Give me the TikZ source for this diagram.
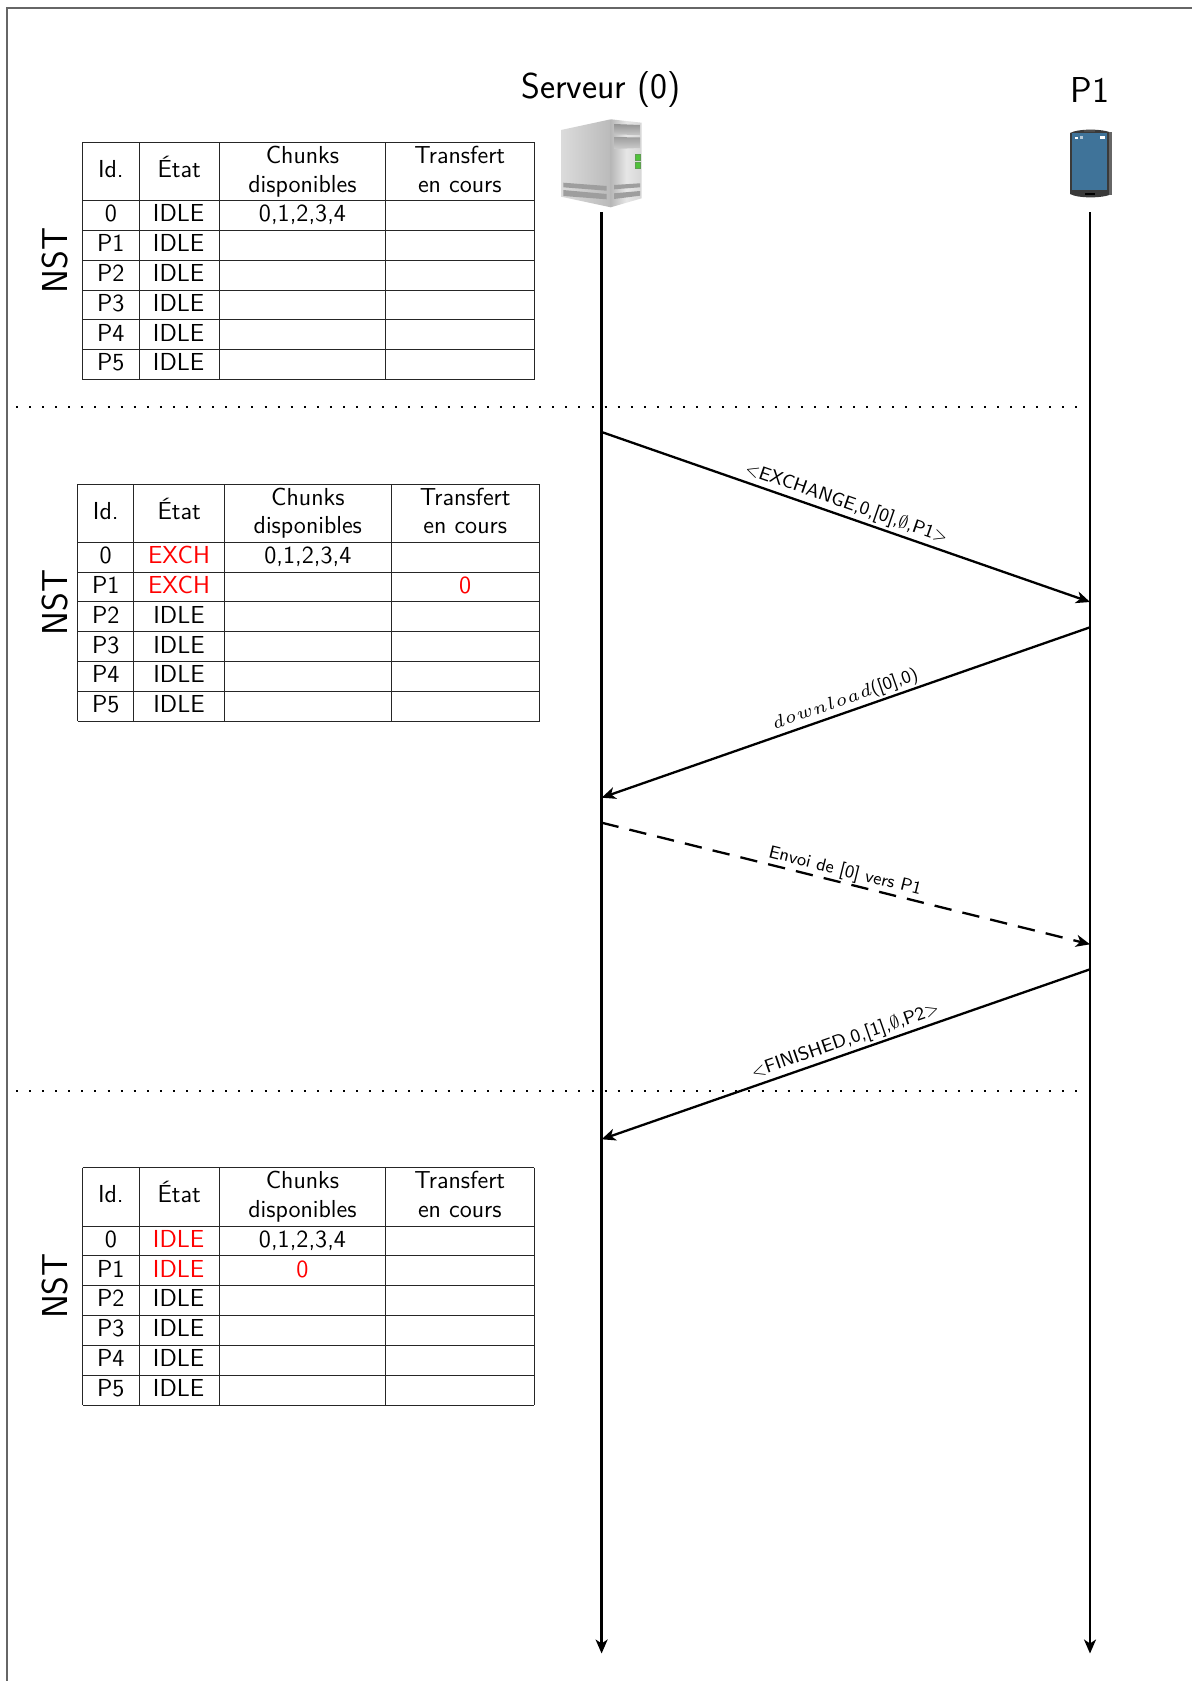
\documentclass[tikz,border=0pt]{standalone}
\usepackage{graphicx}
\usetikzlibrary{arrows.meta}
\renewcommand{\familydefault}{\sfdefault}
\definecolor{framegray}{gray}{0.4}
\definecolor{pscreen}{HTML}{3F7399}
\definecolor{pbody}{HTML}{3A3A3A}
\definecolor{ledgreen}{HTML}{4FC23A}
\definecolor{ledrim}{HTML}{5E9E50}
\newcommand{\tabfont}{\fontsize{12.3}{14.4}\selectfont}
\newcommand{\lblfont}{\fontsize{9}{11}\selectfont}
\newcommand{\lblbigfont}{\fontsize{9.4}{11}\selectfont}
\newcommand{\bigfont}{\fontsize{18}{20}\selectfont}
\tikzset{
  x=0.5pt,y=-0.5pt,
  cell/.style={anchor=base,inner sep=0pt,font=\tabfont,text=black},
  redcell/.style={cell,text=red},
  grid/.style={line width=0.45pt,black!85},
  title/.style={anchor=base,inner sep=0pt,font=\bigfont},
  nst/.style={anchor=center,inner sep=0pt,rotate=90,font=\fontsize{18}{20}\selectfont},
  lifeline/.style={line width=1.15pt,-{Stealth[length=7pt,width=6pt,inset=2pt]}},
  msg/.style={line width=1.15pt,-{Stealth[length=7pt,width=6pt,inset=2pt]}},
  msgdash/.style={msg,dash pattern=on 8.7pt off 5.6pt},
  sep/.style={line width=1pt,dash pattern=on 1pt off 5.54pt},
  lbl/.style={pos=0.4925,sloped,above,inner sep=0pt,yshift=1pt,font=\lblfont},
  lblb/.style={lbl,font=\lblbigfont},
}
% #1 prefix, #2-#6 vertical rules, #7 top y, #8 y of the NST centre
\newcommand{\nsttab}[8]{
  \foreach \vx in {#2,#3,#4,#5,#6} \draw[grid] (\vx,#7) -- (\vx,#7+237.3);
  \foreach \ry in {0,58.3,88.1,117.9,147.7,177.5,207.3,237.3} \draw[grid] (#2,#7+\ry) -- (#6,#7+\ry);
  \node[cell] (#1id) at ({(#2+#3)/2},#7+35) {Id.};
  \node[cell] (#1etat) at ({(#3+#4)/2},#7+35) {État};
  \node[cell] (#1cha) at ({(#4+#5)/2},#7+21) {Chunks};
  \node[cell] (#1chb) at ({(#4+#5)/2},#7+49.8) {disponibles};
  \node[cell] (#1tra) at ({(#5+#6)/2},#7+21) {Transfert};
  \node[cell] (#1trb) at ({(#5+#6)/2},#7+49.8) {en cours};
  \foreach \rw/\rn in {0/0,1/P1,2/P2,3/P3,4/P4,5/P5}
    \node[cell] (#1r\rw) at ({(#2+#3)/2},#7+58.3+21.3+29.8*\rw) {\rn};
  \node[nst] (#1nst) at (55,#8) {NST};
}
\begin{document}
\begin{tikzpicture}
\useasboundingbox (0,0) rectangle (1192,1681);
% page frame
\coordinate (fa) at (7,1690); \coordinate (fb) at (7,8); \coordinate (fc) at (1200,8);
\draw[framegray,line width=1pt] (fa) -- (fb) -- (fc);

% server icon
\begin{scope}
  \shade[left color=black!14,right color=black!27] (561,130) -- (610.7,119.3) -- (610.7,207.3) -- (561,196.7) -- cycle;
  \shade[left color=black!28,right color=black!16,middle color=black!10] (610.7,119.3) -- (641.7,122.7) -- (641.7,198.3) -- (610.7,207.3) -- cycle;
  \shade[top color=black!42,bottom color=black!22] (614,124) -- (640,125) -- (640,135) -- (614,134.5) -- cycle;
  \shade[top color=black!38,bottom color=black!20] (614,137) -- (640,137.5) -- (640,148) -- (614,149) -- cycle;
  \fill[ledgreen,draw=ledrim,line width=0.3pt] (635.5,154) rectangle (640.5,160);
  \fill[ledgreen,draw=ledrim,line width=0.3pt] (635.5,162.5) rectangle (640.5,168.5);
  \fill[black!38] (614,185) -- (640,183.3) -- (640,187.3) -- (614,189.3) -- cycle;
  \fill[black!38] (614,193.3) -- (640,191) -- (640,195.7) -- (614,199) -- cycle;
  \fill[black!38] (563.3,182.7) -- (606.7,186) -- (606.7,190.7) -- (563.3,187.3) -- cycle;
  \fill[black!38] (563.3,190) -- (606.7,194) -- (606.7,199.3) -- (563.3,196) -- cycle;
\end{scope}

% phone icon
\begin{scope}
  \fill[pbody] (1070,133) .. controls (1078,128.5) and (1103,128.5) .. (1111.7,133) -- (1111.7,194) .. controls (1103,198.5) and (1078,198.5) .. (1070,194) -- cycle;
  \fill[black!60] (1108.5,132) rectangle (1111.7,195);
  \fill[pscreen] (1071.7,133.3) rectangle (1107.3,190);
  \fill[white] (1075,136.5) rectangle (1078,138.5);
  \fill[white!60!pscreen] (1080,135.5) rectangle (1083,138.5);
  \fill[white] (1100,136) rectangle (1105,139);
  \fill[black] (1085,193) rectangle (1095,195);
  \fill[black!70] (1084,130.4) rectangle (1095,131.6);
\end{scope}

% titles
\node[title] (srv) at (601,98.7) {Serveur (0)};
\node[title] (pone) at (1089.8,102.7) {P1};

% tables
\nsttab{ta}{82.7}{139}{219.3}{385.6}{534}{142.3}{260.5}
\nsttab{tb}{77.7}{133.8}{224.7}{391}{539.5}{484}{602.5}
\nsttab{tc}{82.7}{139}{219.3}{385.6}{534}{1167.7}{1286}

% table 1 cells
\foreach \rw in {0,...,5} \node[cell] (tas\rw) at (178.6,142.3+79.6+29.8*\rw) {IDLE};
\node[cell] (tach) at (302.5,221.9) {0,1,2,3,4};

% table 2 cells
\node[redcell] (tbs0) at (179,484+79.6) {EXCH};
\node[redcell] (tbs1) at (179,484+109.4) {EXCH};
\foreach \rw in {2,...,5} \node[cell] (tbs\rw) at (179,484+79.6+29.8*\rw) {IDLE};
\node[cell] (tbch) at (307.9,563.6) {0,1,2,3,4};
\node[redcell] (tbtr) at (465.2,593.4) {0};

% table 3 cells
\node[redcell] (tcs0) at (178.6,1167.7+79.6) {IDLE};
\node[redcell] (tcs1) at (178.6,1167.7+109.4) {IDLE};
\foreach \rw in {2,...,5} \node[cell] (tcs\rw) at (178.6,1167.7+79.6+29.8*\rw) {IDLE};
\node[cell] (tcch) at (302.5,1247.3) {0,1,2,3,4};
\node[redcell] (tcch1) at (302.5,1277.1) {0};

% separators
\coordinate (sa1) at (16,407.4); \coordinate (sa2) at (1081,407.4);
\coordinate (sb1) at (16,1091); \coordinate (sb2) at (1081,1091);
\draw[sep] (sa1) -- (sa2);
\draw[sep] (sb1) -- (sb2);

% lifelines
\coordinate (ls0) at (601.6,212.3); \coordinate (ls1) at (601.6,1653.5);
\coordinate (lp0) at (1090,212.3); \coordinate (lp1) at (1090,1653.5);
\draw[lifeline] (ls0) -- (ls1);
\draw[lifeline] (lp0) -- (lp1);

% messages
\coordinate (m1a) at (601.6,432); \coordinate (m1b) at (1090,602);
\coordinate (m2a) at (1090,627.3); \coordinate (m2b) at (601.6,797.7);
\coordinate (m3a) at (601.6,822.7); \coordinate (m3b) at (1090,944.3);
\coordinate (m4a) at (1090,969.3); \coordinate (m4b) at (601.6,1139.3);
\draw[msg] (m1a) -- node[lblb] (l1) {$<$EXCHANGE,0,[0],$\emptyset$,P1$>$} (m1b);
\draw[msg] (m2a) -- node[lbl] (l2) {\scalebox{1.5}{$\scriptstyle d\mkern1mu o\mkern1mu w\mkern1mu n\mkern1mu l\mkern1mu o\mkern1mu a\mkern1mu d$}([0],0)} (m2b);
\draw[msgdash] (m3a) -- node[lbl,yshift=-0.5pt] (l3) {Envoi de [0] vers P1} (m3b);
\draw[msg] (m4a) -- node[lblb] (l4) {$<$FINISHED,0,[1],$\emptyset$,P2$>$} (m4b);
\end{tikzpicture}
\end{document}
